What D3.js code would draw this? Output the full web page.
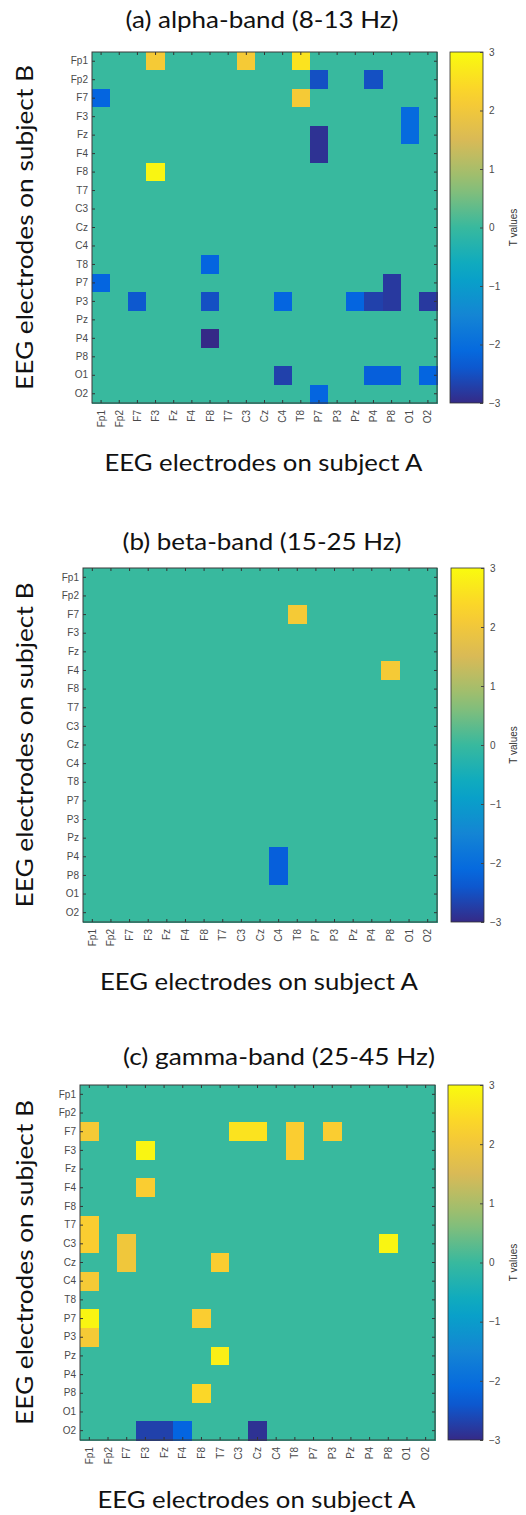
<!DOCTYPE html>
<html>
<head>
<meta charset="utf-8">
<script src="https://cdn.jsdelivr.net/npm/d3@7.9.0/dist/d3.min.js"></script>
<style>
  body { margin: 0; background: #fff; }
  svg { display: block; }
  .tick text { fill: #4a4a4a; font-family: "Liberation Sans", Arial, sans-serif; font-size: 10px; }
  .big { font-family: Lato, "Noto Sans", sans-serif; font-size: 23px; fill: #111; }
  rect.cell { shape-rendering: crispEdges; }
</style>
</head>
<body>
<svg id="chart" width="526" height="1515"></svg>
<script>
// electrodes, same order on both axes
const electrodes = ["Fp1", "Fp2", "F7", "F3", "Fz", "F4", "F8", "T7", "C3", "Cz",
                    "C4", "T8", "P7", "P3", "Pz", "P4", "P8", "O1", "O2"];
const colorTicks = [3, 2, 1, 0, -1, -2, -3];

// non-zero cells: [electrode on subject B (row), electrode on subject A (column), T value]
const alphaCells = [
  ["Fp1", "F3", 2.1], ["Fp1", "C3", 2.1], ["Fp1", "T8", 2.6],
  ["Fp2", "P7", -2.5], ["Fp2", "P4", -2.5],
  ["F7", "Fp1", -2.2], ["F7", "T8", 2.1],
  ["F3", "O1", -2.1],
  ["Fz", "P7", -2.9], ["Fz", "O1", -2.1],
  ["F4", "P7", -2.9],
  ["F8", "F3", 2.9],
  ["T8", "F8", -2.2],
  ["P7", "Fp1", -2.2], ["P7", "P8", -2.8],
  ["P3", "F7", -2.4], ["P3", "F8", -2.5], ["P3", "C4", -2.2], ["P3", "Pz", -2.2],
  ["P3", "P4", -2.7], ["P3", "P8", -2.8], ["P3", "O2", -2.8],
  ["P4", "F8", -3.0],
  ["O1", "C4", -2.7], ["O1", "P4", -2.3], ["O1", "P8", -2.3], ["O1", "O2", -2.2],
  ["O2", "P7", -2.2]
];
const betaCells = [
  ["F7", "T8", 2.1],
  ["F4", "P8", 2.1],
  ["P4", "C4", -2.3],
  ["P8", "C4", -2.3]
];
const gammaCells = [
  ["F7", "Fp1", 2.1], ["F7", "C3", 2.6], ["F7", "Cz", 2.6], ["F7", "T8", 2.2], ["F7", "P3", 2.2],
  ["F3", "F3", 2.9], ["F3", "T8", 2.2],
  ["F4", "F3", 2.2],
  ["T7", "Fp1", 2.2],
  ["C3", "Fp1", 2.2], ["C3", "F7", 2.0], ["C3", "P8", 2.9],
  ["Cz", "F7", 2.0], ["Cz", "T7", 2.2],
  ["C4", "Fp1", 2.1],
  ["P7", "Fp1", 2.9], ["P7", "F8", 2.2],
  ["P3", "Fp1", 2.1],
  ["Pz", "T7", 2.8],
  ["P8", "F8", 2.4],
  ["O2", "F3", -2.7], ["O2", "Fz", -2.7], ["O2", "F4", -2.2], ["O2", "Cz", -2.9]
];

// parula-like colormap over -3..3
const parula = ["#352a87", "#0363e1", "#1485d4", "#06a7c6", "#38b99e",
                "#92bf73", "#d9ba56", "#fcce2e", "#f9fb0e"];
const color = d3.scaleLinear()
  .domain(d3.range(parula.length).map(i => -3 + 6 * i / (parula.length - 1)))
  .range(parula)
  .interpolate(d3.interpolateRgb)
  .clamp(true);

const panels = [
  { title: "(a) alpha-band (8-13 Hz)", cells: alphaCells,
    titleX: 262, titleY: 28, titleW: 273,
    left: 92, right: 437, top: 52, bottom: 403, cbLeft: 450, cbRight: 483, xlabY: 471 },
  { title: "(b) beta-band (15-25 Hz)", cells: betaCells,
    titleX: 262, titleY: 550, titleW: 279,
    left: 83, right: 437, top: 568, bottom: 922, cbLeft: 451, cbRight: 484, xlabY: 990 },
  { title: "(c) gamma-band (25-45 Hz)", cells: gammaCells,
    titleX: 279, titleY: 1065, titleW: 312,
    left: 80, right: 435, top: 1085, bottom: 1440, cbLeft: 448, cbRight: 483, xlabY: 1508 }
];

const svg = d3.select("#chart");
const defs = svg.append("defs");

// gradient for the colorbars
const grad = defs.append("linearGradient")
  .attr("id", "cbgrad").attr("x1", 0).attr("y1", 1).attr("x2", 0).attr("y2", 0);
d3.range(0, 1.0001, 0.05).forEach(t => {
  grad.append("stop").attr("offset", t).attr("stop-color", color(-3 + 6 * t));
});

panels.forEach(p => {
  const g = svg.append("g");

  // full matrix, zero where nothing is listed
  let lookup = new Map(p.cells.map(([r, c, v]) => [r + "|" + c, v]));
  let matrix = [];
  electrodes.forEach(r => electrodes.forEach(c => {
    matrix.push({ row: r, col: c, value: lookup.get(r + "|" + c) ?? 0 });
  }));

  const x = d3.scaleBand().domain(electrodes).range([p.left, p.right]);
  const y = d3.scaleBand().domain(electrodes).range([p.top, p.bottom]);

  g.append("text").attr("class", "big")
    .attr("x", p.titleX).attr("y", p.titleY)
    .attr("text-anchor", "middle")
    .attr("textLength", p.titleW).attr("lengthAdjust", "spacingAndGlyphs")
    .text(p.title);

  // zero background, then every cell on top
  g.append("rect")
    .attr("x", p.left).attr("y", p.top)
    .attr("width", p.right - p.left).attr("height", p.bottom - p.top)
    .attr("fill", color(0));
  g.selectAll("rect.cell")
    .data(matrix)
    .join("rect")
    .attr("class", "cell")
    .attr("x", d => x(d.col))
    .attr("y", d => y(d.row))
    .attr("width", x.bandwidth() + 0.5)
    .attr("height", y.bandwidth() + 0.5)
    .attr("fill", d => color(d.value));

  // inward ticks on all four sides
  g.append("g").attr("transform", `translate(${p.left},0)`)
    .call(d3.axisLeft(y).tickSizeInner(-3).tickSizeOuter(0).tickPadding(4))
    .call(a => a.select(".domain").remove());
  g.append("g").attr("transform", `translate(${p.right},0)`)
    .call(d3.axisRight(y).tickSizeInner(-3).tickSizeOuter(0).tickFormat(""))
    .call(a => a.select(".domain").remove());
  g.append("g").attr("transform", `translate(0,${p.top})`)
    .call(d3.axisTop(x).tickSizeInner(-3).tickSizeOuter(0).tickFormat(""))
    .call(a => a.select(".domain").remove());
  g.append("g").attr("transform", `translate(0,${p.bottom})`)
    .call(d3.axisBottom(x).tickSizeInner(-3).tickSizeOuter(0))
    .call(a => a.select(".domain").remove())
    .selectAll("text")
    .attr("transform", "rotate(-90)")
    .attr("x", -7).attr("y", 0).attr("dy", "0.35em")
    .style("text-anchor", "end");
  g.selectAll(".tick line").attr("stroke", "#333");

  g.append("rect")
    .attr("x", p.left).attr("y", p.top)
    .attr("width", p.right - p.left).attr("height", p.bottom - p.top)
    .attr("fill", "none").attr("stroke", "#3a3a3a").attr("stroke-width", 1);

  // axis titles
  g.append("text").attr("class", "big")
    .attr("x", (p.left + p.right) / 2 - 1).attr("y", p.xlabY)
    .attr("text-anchor", "middle")
    .attr("textLength", 318).attr("lengthAdjust", "spacingAndGlyphs")
    .text("EEG electrodes on subject A");
  g.append("text").attr("class", "big")
    .attr("transform", `translate(33,${(p.top + p.bottom) / 2}) rotate(-90)`)
    .attr("text-anchor", "middle")
    .attr("textLength", 325).attr("lengthAdjust", "spacingAndGlyphs")
    .text("EEG electrodes on subject B");

  // colorbar
  const cb = d3.scaleLinear().domain([-3, 3]).range([p.bottom, p.top]);
  g.append("rect")
    .attr("x", p.cbLeft).attr("y", p.top)
    .attr("width", p.cbRight - p.cbLeft).attr("height", p.bottom - p.top)
    .attr("fill", "url(#cbgrad)").attr("stroke", "#333").attr("stroke-width", 0.8);
  g.append("g").attr("transform", `translate(${p.cbRight},0)`)
    .call(d3.axisRight(cb).tickValues(colorTicks).tickFormat(d3.format("d"))
      .tickSizeInner(-3).tickSizeOuter(0).tickPadding(6))
    .call(a => a.select(".domain").remove())
    .call(a => a.selectAll(".tick line").attr("stroke", "#444"));
  g.append("text")
    .attr("transform", `translate(517,${(p.top + p.bottom) / 2}) rotate(-90)`)
    .attr("text-anchor", "middle")
    .attr("font-family", "Liberation Sans, Arial, sans-serif")
    .attr("font-size", 10).attr("fill", "#333")
    .text("T values");
});
</script>
</body>
</html>
